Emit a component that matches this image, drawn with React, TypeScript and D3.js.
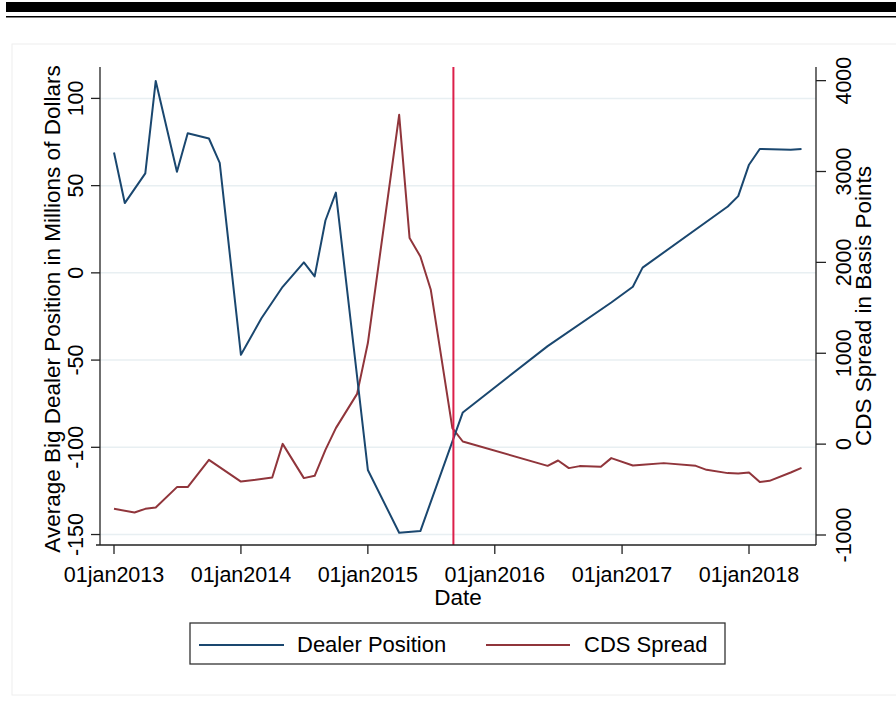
import * as d3 from "d3";

const dealerDates = [
  "2013-01", "2013-02", "2013-04", "2013-05", "2013-07", "2013-08", "2013-10", "2013-11",
  "2014-01", "2014-03", "2014-05", "2014-07", "2014-08", "2014-09", "2014-10",
  "2015-01", "2015-04", "2015-06", "2015-10", "2016-06", "2016-12",
  "2017-02", "2017-03", "2017-11", "2017-12", "2018-01", "2018-02", "2018-05", "2018-06",
];
const dealerValues = [
  69, 40, 57, 110, 58, 80, 77, 63,
  -47, -26, -8, 6, -2, 30, 46,
  -113, -149, -148, -80, -42, -17,
  -8, 3, 38, 44, 62, 71, 70.5, 71,
];

const cdsDates = [
  "2013-01", "2013-03", "2013-04", "2013-05", "2013-07", "2013-08", "2013-10",
  "2014-01", "2014-04", "2014-05", "2014-07", "2014-08", "2014-09", "2014-10", "2014-12",
  "2015-01", "2015-04", "2015-05", "2015-06", "2015-07", "2015-09", "2015-10",
  "2016-06", "2016-07", "2016-08", "2016-09", "2016-11", "2016-12",
  "2017-02", "2017-03", "2017-05", "2017-08", "2017-09", "2017-11", "2017-12",
  "2018-01", "2018-02", "2018-03", "2018-05", "2018-06",
];
const cdsValues = [
  -712, -752, -712, -698, -473, -473, -173,
  -412, -368, 3, -374, -349, -63, 176, 553,
  1112, 3624, 2267, 2065, 1698, 176, 29,
  -239, -180, -264, -242, -250, -154,
  -235, -228, -209, -239, -283, -319, -323,
  -312, -418, -404, -312, -261,
];

const xTickDates = ["2013-01", "2014-01", "2015-01", "2016-01", "2017-01", "2018-01"];
const xTickLabels = ["01jan2013", "01jan2014", "01jan2015", "01jan2016", "01jan2017", "01jan2018"];
const leftTicks = [-150, -100, -50, 0, 50, 100];
const rightTicks = [-1000, 0, 1000, 2000, 3000, 4000];
const eventDate = "2015-09-04";
const seriesNames = ["Dealer Position", "CDS Spread"];
const seriesColors = ["#1a476f", "#90353b"];

const parse = (s: string) => new Date(s.length === 7 ? s + "-01T00:00:00Z" : s + "T00:00:00Z");
const font = "'Liberation Sans', Arial, sans-serif";

export default function App() {
  const width = 896;
  const height = 726;
  const left = 100;
  const right = 816;
  const top = 67;
  const bottom = 545;

  const x = d3.scaleUtc([parse("2013-01"), parse("2018-01")], [114, 749]);
  const yL = d3.scaleLinear([-156, 118], [bottom, top]);
  const yR = d3.scaleLinear([-1110, 4150], [bottom, top]);

  const dealerLine = d3.line<number>((_, i) => x(parse(dealerDates[i])), (d) => yL(d));
  const cdsLine = d3.line<number>((_, i) => x(parse(cdsDates[i])), (d) => yR(d));

  const ev = x(parse(eventDate));
  const tickFs = 21.5;
  const titleFs = 22.5;

  return (
    <svg width={width} height={height} style={{ position: "absolute", left: 0, top: 0, background: "#fff" }}>
      {/* page rules above the figure */}
      <rect x={6} y={2} width={width - 6} height={10} fill="#000" />
      <rect x={6} y={16} width={width - 6} height={1.5} fill="#000" />
      <rect x={12} y={44} width={width} height={651} fill="#fff" stroke="#eeeeee" strokeWidth={1} />

      {/* gridlines */}
      <g stroke="#e8eff2" strokeWidth={1.5}>
        {leftTicks.map((t) => (
          <line key={t} x1={left} x2={right} y1={yL(t)} y2={yL(t)} />
        ))}
      </g>

      {/* series */}
      <path d={cdsLine(cdsValues) ?? ""} fill="none" stroke={seriesColors[1]} strokeWidth={2} strokeLinejoin="round" />
      <path d={dealerLine(dealerValues) ?? ""} fill="none" stroke={seriesColors[0]} strokeWidth={2} strokeLinejoin="round" />
      <line x1={ev} x2={ev} y1={top} y2={bottom} stroke="#dc1f4a" strokeWidth={2} />

      {/* axes */}
      <g stroke="#222" strokeWidth={1.3} fill="none">
        <line x1={left} x2={left} y1={top} y2={bottom} />
        <line x1={right} x2={right} y1={top} y2={bottom} />
        <line x1={left - 4} x2={right} y1={bottom} y2={bottom} />
        {leftTicks.map((t) => (
          <line key={t} x1={left - 9} x2={left} y1={yL(t)} y2={yL(t)} />
        ))}
        {rightTicks.map((t) => (
          <line key={t} x1={right} x2={right + 10} y1={yR(t)} y2={yR(t)} />
        ))}
        {xTickDates.map((d) => (
          <line key={d} x1={x(parse(d))} x2={x(parse(d))} y1={bottom} y2={bottom + 9} />
        ))}
      </g>

      <g fontFamily={font} fontSize={tickFs} fill="#000">
        {leftTicks.map((t) => (
          <text key={t} transform={`translate(83,${yL(t)}) rotate(-90)`} textAnchor="middle">
            {t}
          </text>
        ))}
        {rightTicks.map((t) => (
          <text key={t} transform={`translate(851,${yR(t)}) rotate(-90)`} textAnchor="middle">
            {t}
          </text>
        ))}
        {xTickDates.map((d, i) => (
          <text key={d} x={x(parse(d))} y={582} textAnchor="middle">
            {xTickLabels[i]}
          </text>
        ))}
      </g>
      <g fontFamily={font} fontSize={titleFs} fill="#000">
        <text x={(left + right) / 2} y={605} textAnchor="middle">Date</text>
        <text transform={`translate(60,${(top + bottom) / 2 + 3}) rotate(-90)`} textAnchor="middle">
          Average Big Dealer Position in Millions of Dollars
        </text>
        <text transform={`translate(871,${(top + bottom) / 2}) rotate(-90)`} textAnchor="middle">
          CDS Spread in Basis Points
        </text>
      </g>

      {/* legend */}
      <rect x={190} y={623} width={535} height={41} fill="#fff" stroke="#333" strokeWidth={1.3} />
      <line x1={199} x2={284} y1={645} y2={645} stroke={seriesColors[0]} strokeWidth={2} />
      <line x1={486} x2={570} y1={645} y2={645} stroke={seriesColors[1]} strokeWidth={2} />
      <g fontFamily={font} fontSize={22} fill="#000">
        <text x={297} y={652}>{seriesNames[0]}</text>
        <text x={584} y={652}>{seriesNames[1]}</text>
      </g>
    </svg>
  );
}
